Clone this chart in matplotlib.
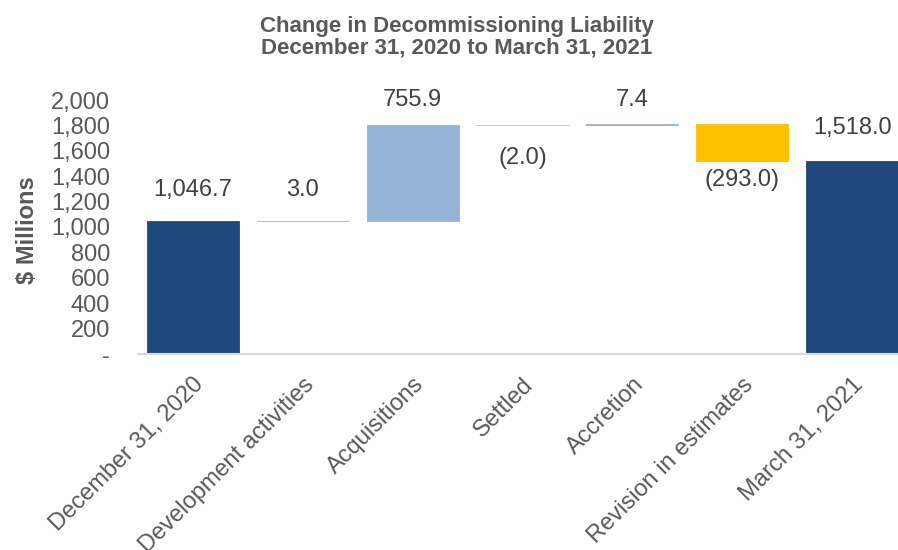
import numpy as np
import matplotlib.pyplot as plt
from matplotlib.ticker import FuncFormatter

categories = ['December 31, 2020', 'Development activities', 'Acquisitions',
              'Settled', 'Accretion', 'Revision in estimates', 'March 31, 2021']
changes = [1046.7, 3.0, 755.9, -2.0, 7.4, -293.0, 1518.0]
is_total = [True, False, False, False, False, False, True]

navy = '#1F497D'
up_col = '#95B3D7'
down_col = '#FFC000'
grey = '#595959'

# label offset from bar end, pixels (Excel places these a bit unevenly)
label_gap = [31, 31, 25, -33, 24, -19, 33]

plt.rcParams['font.family'] = ['Liberation Sans', 'DejaVu Sans']

fig = plt.figure(figsize=(8.98, 5.5), dpi=100)
ax = fig.add_axes([138 / 898, 1 - 354 / 550, (907 - 138) / 898, (354 - 100) / 550])

x = np.arange(len(categories))
bottoms = []
heights = []
colors = []
running = 0.0
for v, tot in zip(changes, is_total):
    if tot:
        bottoms.append(0)
        heights.append(v)
        colors.append(navy)
        running = v
    else:
        if v >= 0:
            bottoms.append(running)
            colors.append(up_col)
        else:
            bottoms.append(running + v)
            colors.append(down_col)
        heights.append(abs(v))
        running += v

# thin edge so the tiny steps still show as a line
ax.bar(x, heights, bottom=bottoms, width=0.84, color=colors, edgecolor=colors, linewidth=0.6)

for i, v in enumerate(changes):
    if v >= 0:
        txt = '{:,.1f}'.format(v)
        anchor = bottoms[i] + heights[i]
    else:
        txt = '({:,.1f})'.format(-v)
        anchor = bottoms[i]
    ax.annotate(txt, (x[i], anchor), xytext=(0, label_gap[i] * 0.72),
                textcoords='offset points', ha='center', va='center',
                fontsize=17, color='#404040')

ax.set_xlim(-0.5, len(categories) - 0.5)
ax.set_ylim(0, 2000)
ax.set_yticks(np.arange(0, 2001, 200))
ax.yaxis.set_major_formatter(FuncFormatter(lambda v, p: '-' if v == 0 else '{:,.0f}'.format(v)))
ax.tick_params(axis='y', length=0, labelsize=17, labelcolor=grey, pad=20)
ax.tick_params(axis='x', length=0, labelsize=17, labelcolor=grey, pad=14)
ax.set_xticks(x)
ax.set_xticklabels(categories, rotation=45, ha='right', rotation_mode='anchor')

for s in ['top', 'right', 'left']:
    ax.spines[s].set_visible(False)
ax.spines['bottom'].set_color('#D9D9D9')
ax.spines['bottom'].set_linewidth(1.5)

fig.text(27 / 898, 1 - 230 / 550, '$ Millions', rotation=90, ha='center', va='center',
         fontsize=17, fontweight='bold', color=grey)
fig.text(457 / 898, 1 - 37 / 550, 'Change in Decommissioning Liability\nDecember 31, 2020 to March 31, 2021',
         ha='center', va='center', fontsize=16, fontweight='bold', color=grey, linespacing=1.05)

fig.savefig('out.png', dpi=100)
